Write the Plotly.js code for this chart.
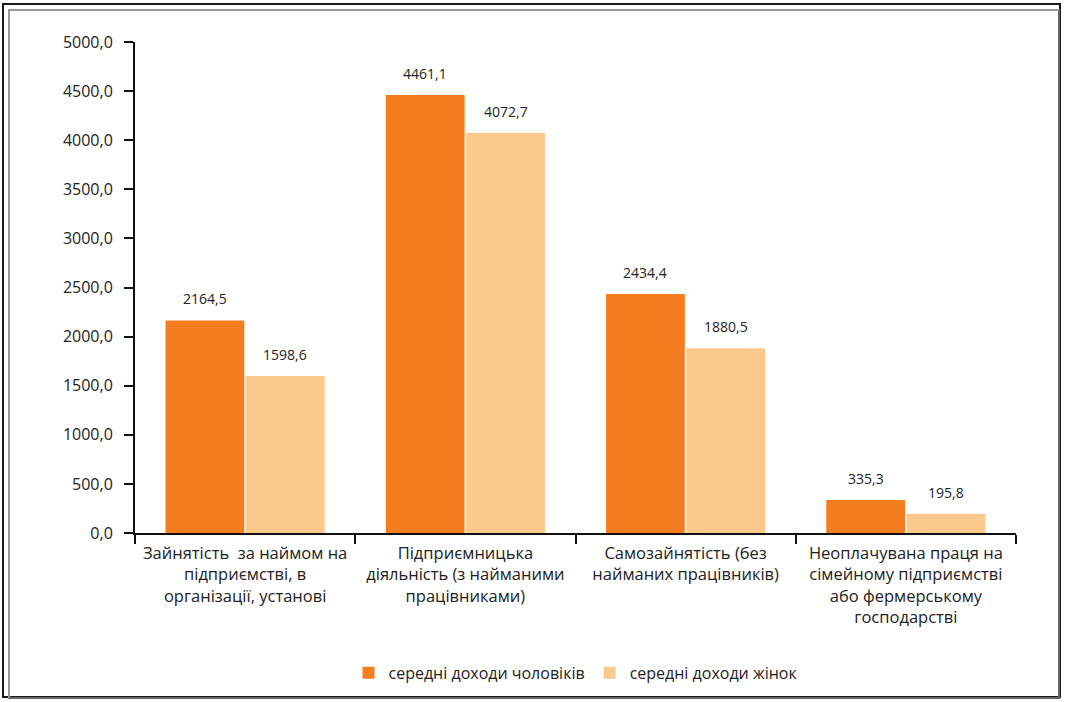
<!DOCTYPE html>
<html>
<head>
<meta charset="utf-8">
<script src="https://cdn.plot.ly/plotly-3.0.1.min.js"></script>
<style>
  html, body { margin: 0; padding: 0; background: #fff; }
  #wrap { position: relative; width: 1065px; height: 702px; }
  #frameOuter { position: absolute; left: 2px; top: 3px; width: 1059px; height: 695px; border: 2px solid #1a1a1a; box-sizing: border-box; pointer-events: none; }
  #frameInner { position: absolute; left: 8px; top: 9px; width: 1052px; height: 690px; border: 2px solid #666; border-top-color:#999; border-left-color:#999; box-sizing: border-box; pointer-events: none; }
  #chart { position: absolute; left: 0; top: 0; width: 1065px; height: 702px; }
</style>
</head>
<body>
<div id="wrap">
  <div id="chart"></div>
  <div id="frameOuter"></div>
  <div id="frameInner"></div>
</div>
<script>
const categories = [
  "Зайнятість  за наймом на<br>підприємстві, в<br>організації, установі",
  "Підприємницька<br>діяльність (з найманими<br>працівниками)",
  "Самозайнятість (без<br>найманих працівників)",
  "Неоплачувана праця на<br>сімейному підприємстві<br>або фермерському<br>господарстві"
];
const menValues = [2164.5, 4461.1, 2434.4, 335.3];
const womenValues = [1598.6, 4072.7, 1880.5, 195.8];
const seriesNames = ["середні доходи чоловіків", "середні доходи жінок"];
const yTicks = [0, 500, 1000, 1500, 2000, 2500, 3000, 3500, 4000, 4500, 5000];

const colors = ["#F47D1F", "#FBC98C"];
const FONT = "Open Sans, Noto Sans, sans-serif";
const bargap = 0.27;
const barW = (1 - bargap) / 2;

function fmt(v) { return v.toFixed(1).replace(".", ","); }

const traces = [menValues, womenValues].map((vals, i) => ({
  type: "bar",
  name: seriesNames[i],
  x: categories,
  y: vals,
  marker: { color: colors[i], line: { width: 0 } },
  hoverinfo: "none"
}));

const annotations = [];
[menValues, womenValues].forEach((vals, s) => {
  vals.forEach((v, i) => {
    annotations.push({
      x: i + (s === 0 ? -barW / 2 : barW / 2),
      y: v,
      xref: "x", yref: "y",
      text: fmt(v),
      showarrow: false,
      yanchor: "bottom",
      yshift: 10,
      font: { family: FONT, size: 14, color: "#222" }
    });
  });
});

const layout = {
  width: 1065,
  height: 702,
  margin: { l: 135, r: 49, t: 42, b: 169 },
  paper_bgcolor: "rgba(0,0,0,0)",
  plot_bgcolor: "rgba(0,0,0,0)",
  barmode: "group",
  bargap: bargap,
  bargroupgap: 0.02,
  font: { family: FONT, color: "#222" },
  showlegend: true,
  legend: {
    orientation: "h",
    x: 0.5, xanchor: "center",
    y: -0.285, yanchor: "middle",
    font: { family: FONT, size: 16, color: "#222" },
    itemwidth: 30,
    traceorder: "normal"
  },
  xaxis: {
    type: "category",
    showline: true,
    linecolor: "#111",
    linewidth: 2,
    ticks: "outside",
    tickson: "boundaries",
    ticklen: 9,
    tickwidth: 2,
    tickcolor: "#111",
    showgrid: false,
    tickangle: 0,
    ticklabelstandoff: 4,
    tickfont: { family: FONT, size: 16.5, color: "#222" }
  },
  yaxis: {
    range: [0, 5000],
    tickvals: yTicks,
    ticktext: yTicks.map(fmt),
    showline: true,
    linecolor: "#111",
    linewidth: 2,
    ticks: "outside",
    ticklen: 9,
    tickwidth: 2,
    tickcolor: "#111",
    showgrid: false,
    zeroline: false,
    ticklabelstandoff: 8,
    tickfont: { family: FONT, size: 16, color: "#222" }
  },
  annotations: annotations
};

Plotly.newPlot("chart", traces, layout, { displayModeBar: false, staticPlot: true });
</script>
</body>
</html>
